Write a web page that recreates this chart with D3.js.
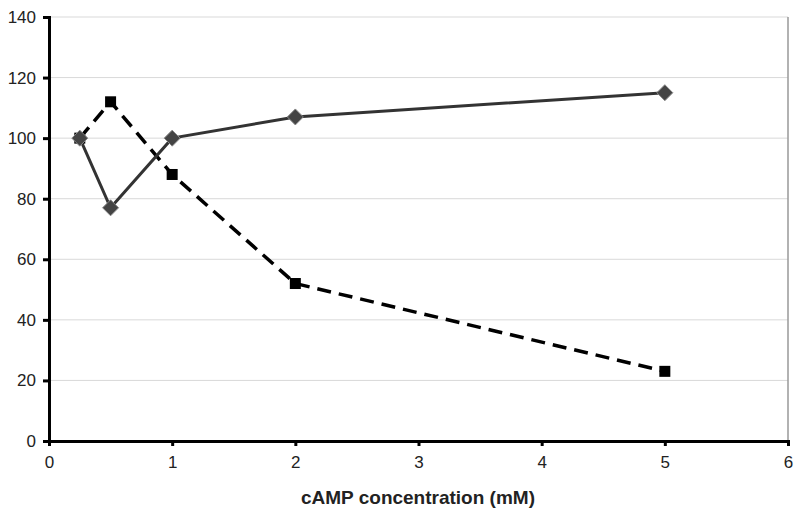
<!DOCTYPE html>
<html><head><meta charset="utf-8">
<script src="https://cdn.jsdelivr.net/npm/d3@7"></script>
<style>body{margin:0;background:#fff}svg{display:block}</style>
</head><body>
<script>
const concentrations = [0.25, 0.5, 1, 2, 5];
const seriesDiamond = [100, 77, 100, 107, 115];
const seriesSquare = [100, 112, 88, 52, 23];
const xTicks = [0, 1, 2, 3, 4, 5, 6];
const yTicks = [0, 20, 40, 60, 80, 100, 120, 140];
const xTitle = "cAMP concentration (mM)";

const W = 800, H = 518;
const m = {left: 49, right: 12, top: 17, bottom: 77};
const svg = d3.select("body").append("svg").attr("width", W).attr("height", H);
const x = d3.scaleLinear().domain([0, 6]).range([m.left, W - m.right]);
const y = d3.scaleLinear().domain([0, 140]).range([H - m.bottom, m.top]);

// gridlines
svg.append("g").selectAll("line").data(yTicks.filter(d => d > 0)).join("line")
  .attr("x1", x(0)).attr("x2", x(6)).attr("y1", d => y(d)).attr("y2", d => y(d))
  .attr("stroke", "#d9d9d9").attr("stroke-width", 1);
// right border
svg.append("line").attr("x1", x(6)).attr("x2", x(6)).attr("y1", y(140)).attr("y2", y(0))
  .attr("stroke", "#999").attr("stroke-width", 1.5);

const font = "Arial, 'Liberation Sans', sans-serif";
const yAxis = svg.append("g").attr("transform", `translate(${x(0)},0)`)
  .call(d3.axisLeft(y).tickValues(yTicks).tickFormat(d3.format("d")).tickSize(6).tickPadding(7));
const xAxis = svg.append("g").attr("transform", `translate(0,${y(0)})`)
  .call(d3.axisBottom(x).tickValues(xTicks).tickFormat(d3.format("d")).tickSize(5).tickPadding(10));
[yAxis, xAxis].forEach(g => {
  g.select(".domain").attr("stroke", "#000").attr("stroke-width", 3);
  g.selectAll(".tick line").attr("stroke", "#000").attr("stroke-width", 3);
  g.selectAll(".tick text").attr("font-family", font).attr("font-size", 17).attr("fill", "#222");
});

svg.append("text").attr("x", 418).attr("y", 504).attr("text-anchor", "middle")
  .attr("font-family", font).attr("font-weight", "bold").attr("font-size", 19).attr("fill", "#222")
  .text(xTitle);

const line = d3.line().x(d => x(d[0])).y(d => y(d[1]));
const dSq = concentrations.map((c, i) => [c, seriesSquare[i]]);
const dDi = concentrations.map((c, i) => [c, seriesDiamond[i]]);

svg.append("path").datum(dSq).attr("d", line).attr("fill", "none")
  .attr("stroke", "#000").attr("stroke-width", 3.5).attr("stroke-dasharray", "14,8");
svg.append("path").datum(dDi).attr("d", line).attr("fill", "none")
  .attr("stroke", "#333").attr("stroke-width", 3);

svg.append("g").selectAll("rect").data(dSq).join("rect")
  .attr("x", d => x(d[0]) - 5.5).attr("y", d => y(d[1]) - 5.5).attr("width", 11).attr("height", 11)
  .attr("fill", "#000");
svg.append("g").selectAll("path").data(dDi).join("path")
  .attr("transform", d => `translate(${x(d[0])},${y(d[1])})`)
  .attr("d", "M0,-8L8,0L0,8L-8,0Z").attr("fill", "#444").attr("stroke", "#888").attr("stroke-width", 1);
</script>
</body></html>
